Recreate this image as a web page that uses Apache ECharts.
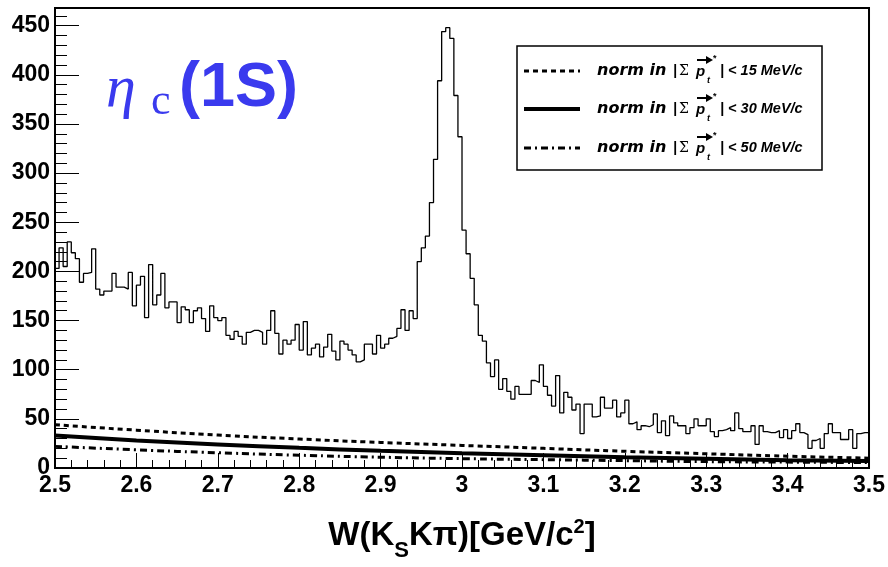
<!DOCTYPE html>
<html>
<head>
<meta charset="utf-8">
<script src="https://cdn.jsdelivr.net/npm/echarts@6/dist/echarts.min.js"></script>
<style>
html, body { margin: 0; padding: 0; background: #fff; }
#main { width: 888px; height: 567px; }
</style>
</head>
<body>
<div id="main"></div>
<script>
// histogram: 200 bins of 5 MeV from 2.5 to 3.5 GeV
var binStart = 2.5;
var binWidth = 0.005;
var counts = [
    203, 224, 205, 230, 219, 213, 189, 198, 199, 223,
    182, 176, 180, 180, 198, 184, 184, 182, 199, 165,
    186, 195, 153, 207, 166, 176, 198, 163, 169, 169,
    148, 164, 161, 148, 160, 163, 152, 139, 165, 153,
    150, 153, 135, 131, 139, 134, 126, 138, 140, 140,
    138, 126, 140, 160, 137, 116, 130, 126, 130, 146,
    120, 149, 115, 122, 126, 113, 123, 136, 119, 110,
    129, 126, 120, 115, 108, 110, 126, 126, 116, 135,
    122, 126, 132, 134, 142, 161, 140, 160, 152, 210,
    224, 236, 270, 314, 394, 444, 448, 437, 379, 337,
    242, 218, 193, 166, 135, 129, 107, 93, 110, 80,
    91, 78, 70, 83, 75, 75, 75, 89, 87, 105,
    83, 74, 63, 94, 56, 77, 72, 59, 65, 35,
    65, 65, 52, 53, 72, 61, 61, 69, 52, 56,
    69, 45, 47, 39, 43, 42, 44, 55, 36, 48,
    33, 53, 46, 43, 43, 35, 41, 50, 43, 43,
    50, 37, 32, 38, 39, 41, 38, 56, 40, 37,
    37, 43, 24, 43, 37, 36, 36, 38, 31, 39,
    30, 38, 45, 36, 34, 20, 28, 30, 20, 35,
    45, 36, 36, 29, 29, 39, 20, 35, 36, 36
];

// normalised background curves
var fitMass = [2.5, 2.6, 2.7, 2.8, 2.9, 3.0, 3.1, 3.2, 3.3, 3.4, 3.5];
var fit15 = [44, 38.5, 33.5, 29.5, 26, 23, 20, 17, 14.5, 12, 10];
var fit30 = [33, 28, 24, 20.5, 17.5, 15, 13, 11, 9.5, 8, 7];
var fit50 = [22, 18.5, 15.5, 13, 11, 9.5, 8.5, 7.5, 6.5, 6, 5.5];

var legendCuts = ['15', '30', '50'];

var histData = counts.map(function (c, i) {
    return [binStart + i * binWidth, c];
});
histData.push([binStart + counts.length * binWidth, counts[counts.length - 1]]);

function pairs(xs, ys) {
    return xs.map(function (x, i) { return [x, ys[i]]; });
}

var labelFont = "'Liberation Sans Narrow', 'Liberation Sans', Arial, sans-serif";
var blue = '#3a3aee';
var dash15 = [5, 4];
var dash50 = [7, 4, 2, 4];

var chart = echarts.init(document.getElementById('main'));

var legendItems = [];
var legendY = [71, 109, 148];
var legendDash = [dash15, null, dash50];
var legendW = [3, 4, 3];
legendCuts.forEach(function (cut, k) {
    var y = legendY[k];
    legendItems.push({
        type: 'line', z: 110,
        shape: { x1: 524, y1: y, x2: 580, y2: y },
        style: { stroke: '#000', lineWidth: legendW[k], lineDash: legendDash[k] }
    });
    var f = "bold italic 16px 'DejaVu Sans'";
    var f2 = "bold italic 14px 'Liberation Sans'";
    legendItems.push(
        { type: 'text', z: 110, x: 597, y: y, style: { text: 'norm in', font: f, fill: '#000', verticalAlign: 'middle' } },
        { type: 'text', z: 110, x: 673, y: y, style: { text: '|', font: f2, fill: '#000', verticalAlign: 'middle' } },
        { type: 'text', z: 110, x: 679, y: y, style: { text: 'Σ', font: "14px 'DejaVu Serif'", fill: '#000', verticalAlign: 'middle' } },
        { type: 'text', z: 110, x: 696, y: y + 1, style: { text: 'p', font: "bold italic 15px 'Liberation Sans'", fill: '#000', verticalAlign: 'middle' } },
        { type: 'line', z: 110, shape: { x1: 697, y1: y - 11, x2: 708, y2: y - 11 }, style: { stroke: '#000', lineWidth: 2 } },
        { type: 'polygon', z: 110, shape: { points: [[706, y - 15], [713, y - 11], [706, y - 7]] }, style: { fill: '#000' } },
        { type: 'text', z: 110, x: 707, y: y + 10, style: { text: 't', font: "bold italic 9px 'Liberation Sans'", fill: '#000', verticalAlign: 'middle' } },
        { type: 'text', z: 110, x: 713, y: y - 12, style: { text: '*', font: "bold 9px 'Liberation Sans'", fill: '#000', verticalAlign: 'middle' } },
        { type: 'text', z: 110, x: 720, y: y, style: { text: '| < ' + cut + ' MeV/c', font: "bold italic 14.5px 'Liberation Sans'", fill: '#000', verticalAlign: 'middle' } }
    );
});

var option = {
    backgroundColor: '#fff',
    animation: false,
    grid: {
        left: 55, right: 15, top: 8, bottom: 73,
        show: true, borderColor: '#000', borderWidth: 2, backgroundColor: 'transparent'
    },
    xAxis: {
        type: 'value', min: 2.5, max: 3.5, interval: 0.1,
        name: '{n|W(K}{s|S}{n|K\u03c0)[GeV/c}{u|2}{n|]}',
        nameLocation: 'middle', nameGap: 42,
        nameTextStyle: {
            rich: {
                n: { fontFamily: labelFont, fontWeight: 'bold', fontSize: 33, color: '#000' },
                s: { fontFamily: labelFont, fontWeight: 'bold', fontSize: 22, color: '#000', padding: [30, 0, 0, 0] },
                u: { fontFamily: labelFont, fontWeight: 'bold', fontSize: 20, color: '#000', padding: [0, 0, 18, 0] }
            }
        },
        axisLine: { show: true, lineStyle: { color: '#000', width: 2 } },
        axisTick: { show: true, inside: true, length: 15, lineStyle: { color: '#000', width: 1 } },
        minorTick: { show: true, splitNumber: 5, length: 8, lineStyle: { color: '#000', width: 1 } },
        splitLine: { show: false },
        axisLabel: {
            margin: 6, color: '#000', fontFamily: labelFont, fontWeight: 'bold', fontSize: 23,
            formatter: function (v) { return String(Math.round(v * 10) / 10); }
        }
    },
    yAxis: {
        type: 'value', min: 0, max: 468, interval: 50,
        axisLine: { show: true, lineStyle: { color: '#000', width: 2 } },
        axisTick: { show: true, inside: true, length: 24, lineStyle: { color: '#000', width: 1 } },
        minorTick: { show: true, splitNumber: 5, length: 12, lineStyle: { color: '#000', width: 1 } },
        splitLine: { show: false },
        axisLabel: {
            margin: 5, color: '#000', fontFamily: labelFont, fontWeight: 'bold', fontSize: 23,
            showMaxLabel: false
        }
    },
    graphic: [
        {
            type: 'text', x: 106, y: 90, z: 100,
            style: { text: '\u03b7', font: "italic 60px 'Liberation Serif'", fill: blue, verticalAlign: 'middle' }
        },
        {
            type: 'text', x: 151, y: 102, z: 100,
            style: { text: 'c', font: "44px 'Liberation Serif'", fill: blue, verticalAlign: 'middle' }
        },
        {
            type: 'text', x: 179, y: 89, z: 100,
            style: { text: '(1S)', font: "bold 63px 'Liberation Sans'", fill: blue, verticalAlign: 'middle' }
        },
        {
            type: 'rect', z: 105,
            shape: { x: 517, y: 46, width: 305, height: 124 },
            style: { fill: '#fff', stroke: '#000', lineWidth: 1.5 }
        }
    ].concat(legendItems),
    series: [
        {
            name: 'data', type: 'line', step: 'end', data: histData,
            symbol: 'none', lineStyle: { color: '#000', width: 1.3 }, z: 3
        },
        {
            name: 'norm 15', type: 'line', smooth: true, data: pairs(fitMass, fit15),
            symbol: 'none', lineStyle: { color: '#000', width: 3, type: dash15 }, z: 4
        },
        {
            name: 'norm 30', type: 'line', smooth: true, data: pairs(fitMass, fit30),
            symbol: 'none', lineStyle: { color: '#000', width: 4 }, z: 4
        },
        {
            name: 'norm 50', type: 'line', smooth: true, data: pairs(fitMass, fit50),
            symbol: 'none', lineStyle: { color: '#000', width: 3, type: dash50 }, z: 4
        }
    ]
};

chart.setOption(option);
</script>
</body>
</html>
